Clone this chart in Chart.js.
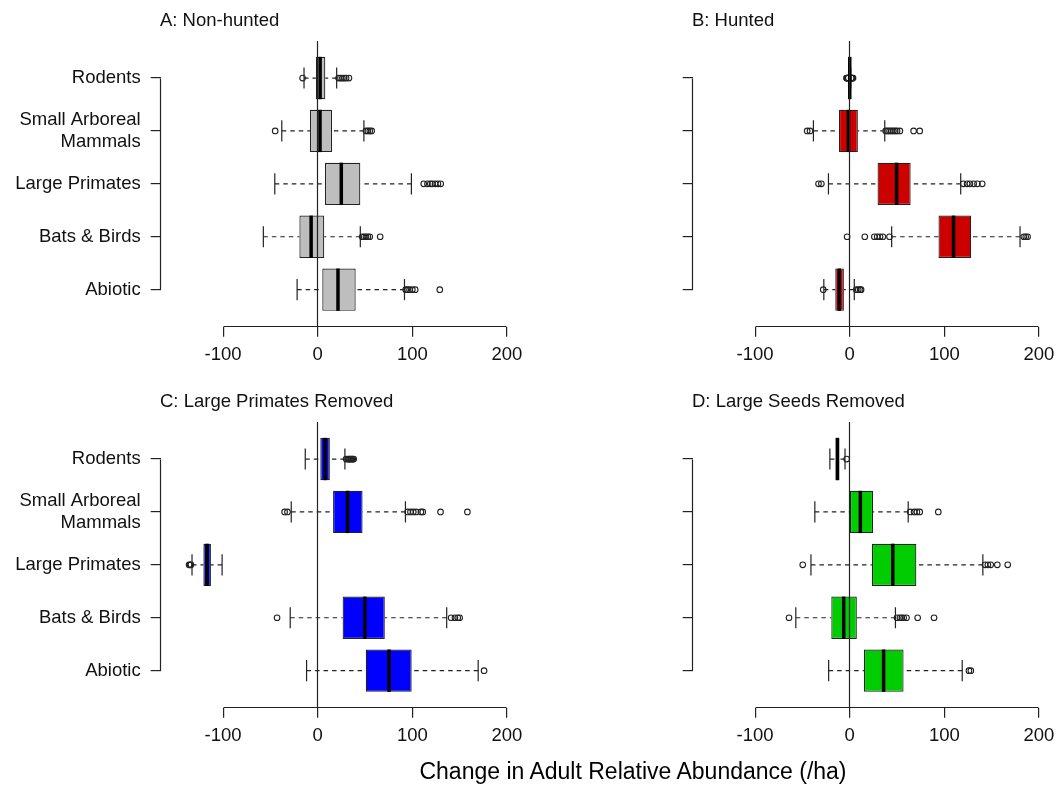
<!DOCTYPE html>
<html lang="en">
<head>
  <meta charset="UTF-8" />
  <title>Change in Adult Relative Abundance</title>
  <script src="https://cdn.jsdelivr.net/npm/chart.js"></script>
  <style>
    body {
      margin: 0;
      background: #fff;
      font-family: 'Liberation Sans', Arial, sans-serif;
      color: #111;
    }

    #figure {
      position: relative;
      width: 1062px;
      height: 785px;
      background: #fff;
    }

    canvas {
      position: absolute;
    }

    .panel-title {
      position: absolute;
      font-size: 18.5px;
      line-height: 22px;
      white-space: nowrap;
    }

    .axis-title {
      position: absolute;
      left: 633px;
      top: 758px;
      transform: translateX(-50%);
      font-size: 23px;
      line-height: 26px;
      white-space: nowrap;
      color: #000;
    }
  </style>
</head>
<body>

  <div id="figure">
    <canvas id="panelA" width="530" height="380" style="left:0;top:0"></canvas>
    <canvas id="panelB" width="530" height="380" style="left:532px;top:0"></canvas>
    <canvas id="panelC" width="530" height="380" style="left:0;top:381px"></canvas>
    <canvas id="panelD" width="530" height="380" style="left:532px;top:381px"></canvas>

    <div class="panel-title" style="left:160px;top:9px">A: Non-hunted</div>
    <div class="panel-title" style="left:692px;top:9px">B: Hunted</div>
    <div class="panel-title" style="left:160px;top:390px">C: Large Primates Removed</div>
    <div class="panel-title" style="left:692px;top:390px">D: Large Seeds Removed</div>

    <div class="axis-title">Change in Adult Relative Abundance (/ha)</div>
  </div>

  <script>
    // rows from top to bottom; boxplot positions 5..1
    const categories = ['Rodents', ['Small Arboreal', 'Mammals'], 'Large Primates', 'Bats & Birds', 'Abiotic'];
    const rowPositions = [5, 4, 3, 2, 1];
    const xTicks = [-100, 0, 100, 200];

    // each row: [lower whisker, Q1, median, Q3, upper whisker]
    const nonHuntedStats = [
      [-14.5, -2, 2.5, 8, 20],
      [-38, -8.3, 2.4, 15.2, 48.8],
      [-45.4, 7.6, 24.9, 45, 99],
      [-57.5, -19.4, -7, 6.9, 45],
      [-21.8, 4.8, 21.4, 40.1, 91.7]
    ];
    const nonHuntedOutliers = [
      [-16, 22, 24, 26, 28, 30, 33],
      [-45, 51, 53, 55, 57],
      [112, 116, 119, 121, 124, 127, 130],
      [47, 49, 51, 53, 55, 66],
      [93, 95, 97, 100, 103, 129]
    ];

    const huntedStats = [
      [-1, -0.5, 0, 0.5, 1],
      [-38.4, -11.4, -1.4, 8.6, 37],
      [-22.5, 29.4, 49.5, 64.4, 117.3],
      [44.3, 93.8, 109.7, 128.4, 180],
      [-27.4, -15.3, -11.1, -6.2, 4.8]
    ];
    const huntedOutliers = [
      [-3.5, -3, -2.5, -2, -1.5, 1.5, 2, 2.5, 3, 3.5],
      [-45, -42, 38, 40, 42, 44, 46, 48, 50, 53, 67.5, 74],
      [-33, -30, 120, 124, 127, 131, 135, 140],
      [-2.8, 15.9, 26, 29, 32, 35, 42, 184, 186, 188],
      [-28, 7, 9, 11, 12]
    ];

    const primatesRemovedStats = [
      [-13.2, 2.7, 7.9, 12.8, 28.7],
      [-28, 16.2, 31.5, 47.4, 92.7],
      [-132.9, -120.9, -117, -112.9, -101.1],
      [-29.1, 26.3, 49.8, 70.9, 136.3],
      [-11.8, 50.8, 75.4, 99.3, 169.6]
    ];
    const primatesRemovedOutliers = [
      [30, 32, 33, 34, 35, 36, 37, 38],
      [-35, -32, 95, 98, 101, 104, 109, 111, 129.8, 158.2],
      [-136, -135, -134],
      [-43, 141, 145, 148, 150],
      [175.8]
    ];

    const seedsRemovedStats = [
      [-21, -15, -13, -11, -5],
      [-36.9, 0.2, 11.2, 24.7, 61.8],
      [-41, 23.4, 45.5, 70.4, 140.7],
      [-57, -19.5, -6.4, 7.5, 48.3],
      [-22.3, 15, 35.8, 56.9, 118.9]
    ];
    const seedsRemovedOutliers = [
      [-3.3],
      [64, 68, 71, 74, 93.6],
      [-49.7, 143, 146, 149, 156, 167],
      [-64.2, 50, 53, 55, 57, 60, 71.8, 89.1],
      [126, 128]
    ];

    const FONT = "'Liberation Sans', Arial, sans-serif";
    const INK = '#222';

    function alignPx(v) {
      return Math.round(v - 0.5) + 0.5;
    }

    // whiskers, staples, medians, the zero line and the short axis lines
    function boxParts(stats) {
      return {
        id: 'boxParts',
        beforeDatasetsDraw(chart) {
          const { ctx, scales: { x } } = chart;
          const boxes = chart.getDatasetMeta(0).data;
          ctx.save();
          ctx.strokeStyle = INK;
          ctx.lineWidth = 1.2;
          stats.forEach((s, i) => {
            const y = boxes[i].y;
            const staple = boxes[i].height / 4;
            const [lo, q1, , q3, hi] = s.map(v => x.getPixelForValue(v));
            ctx.setLineDash([4.5, 4]);
            ctx.beginPath();
            ctx.moveTo(lo, y); ctx.lineTo(q1, y);
            ctx.moveTo(hi, y); ctx.lineTo(q3, y);
            ctx.stroke();
            ctx.setLineDash([]);
            ctx.beginPath();
            ctx.moveTo(lo, y - staple); ctx.lineTo(lo, y + staple);
            ctx.moveTo(hi, y - staple); ctx.lineTo(hi, y + staple);
            ctx.stroke();
          });
          ctx.restore();
        },
        afterDatasetsDraw(chart) {
          const { ctx, chartArea, scales: { x, y } } = chart;
          const boxes = chart.getDatasetMeta(0).data;
          ctx.save();
          ctx.lineCap = 'butt';

          ctx.strokeStyle = '#000';
          ctx.lineWidth = 3.5;
          stats.forEach((s, i) => {
            const m = x.getPixelForValue(s[2]);
            const half = boxes[i].height / 2;
            ctx.beginPath();
            ctx.moveTo(m, boxes[i].y - half);
            ctx.lineTo(m, boxes[i].y + half);
            ctx.stroke();
          });

          ctx.strokeStyle = INK;
          ctx.lineWidth = 1.2;
          const zero = alignPx(x.getPixelForValue(0));
          ctx.beginPath();
          ctx.moveTo(zero, chartArea.top);
          ctx.lineTo(zero, chartArea.bottom);
          ctx.stroke();

          const bottom = alignPx(chartArea.bottom);
          ctx.beginPath();
          ctx.moveTo(alignPx(x.getPixelForValue(xTicks[0])), bottom);
          ctx.lineTo(alignPx(x.getPixelForValue(xTicks[xTicks.length - 1])), bottom);
          const left = alignPx(chartArea.left);
          ctx.moveTo(left, alignPx(y.getPixelForValue(rowPositions[0])));
          ctx.lineTo(left, alignPx(y.getPixelForValue(rowPositions[rowPositions.length - 1])));
          ctx.stroke();
          ctx.restore();
        }
      };
    }

    function makePanel(canvasId, stats, outliers, fill, showLabels) {
      const boxes = stats.map((s, i) => ({ y: rowPositions[i], x: [s[1], s[3]] }));
      const points = [];
      outliers.forEach((row, i) => row.forEach(v => points.push({ x: v, y: rowPositions[i] })));

      return new Chart(document.getElementById(canvasId), {
        type: 'scatter',
        data: {
          datasets: [
            {
              type: 'bar',
              indexAxis: 'y',
              data: boxes,
              backgroundColor: fill,
              borderColor: INK,
              borderWidth: 1.2,
              borderSkipped: false,
              categoryPercentage: 0.8,
              barPercentage: 1
            },
            {
              type: 'scatter',
              data: points,
              pointRadius: 2.8,
              pointBorderWidth: 1.1,
              pointBorderColor: INK,
              pointBackgroundColor: 'rgba(255,255,255,0)'
            }
          ]
        },
        options: {
          responsive: false,
          devicePixelRatio: 1,
          animation: false,
          events: [],
          layout: {
            autoPadding: false,
            padding: { left: 0, top: 41, right: 3.2, bottom: 0 }
          },
          plugins: {
            legend: { display: false },
            tooltip: { enabled: false }
          },
          scales: {
            x: {
              type: 'linear',
              position: 'bottom',
              min: -166,
              max: 214,
              offset: false,
              afterBuildTicks: s => { s.ticks = xTicks.map(v => ({ value: v })); },
              afterFit: s => { s.height = 53.3; },
              border: { display: false },
              grid: { offset: false, drawOnChartArea: false, drawTicks: true, tickLength: 10, color: INK, lineWidth: 1.2 },
              ticks: {
                autoSkip: false,
                maxRotation: 0,
                padding: 7.5,
                color: '#111',
                font: { family: FONT, size: 18.5, lineHeight: 1.15 },
                callback: v => String(v)
              }
            },
            y: {
              type: 'linear',
              position: 'left',
              min: 0.3,
              max: 5.7,
              offset: false,
              afterBuildTicks: s => { s.ticks = rowPositions.slice().reverse().map(v => ({ value: v })); },
              afterFit: s => { s.width = 160.7; },
              border: { display: false },
              grid: { offset: false, drawOnChartArea: false, drawTicks: true, tickLength: 10, color: INK, lineWidth: 1.2 },
              ticks: {
                display: showLabels,
                autoSkip: false,
                padding: 10,
                color: '#111',
                font: { family: FONT, size: 18.5, lineHeight: 1.15 },
                callback: v => categories[rowPositions.indexOf(v)]
              }
            }
          }
        },
        plugins: [boxParts(stats)]
      });
    }

    makePanel('panelA', nonHuntedStats, nonHuntedOutliers, '#BEBEBE', true);
    makePanel('panelB', huntedStats, huntedOutliers, '#CD0000', false);
    makePanel('panelC', primatesRemovedStats, primatesRemovedOutliers, '#0000FF', true);
    makePanel('panelD', seedsRemovedStats, seedsRemovedOutliers, '#00CD00', false);
  </script>

</body>
</html>
